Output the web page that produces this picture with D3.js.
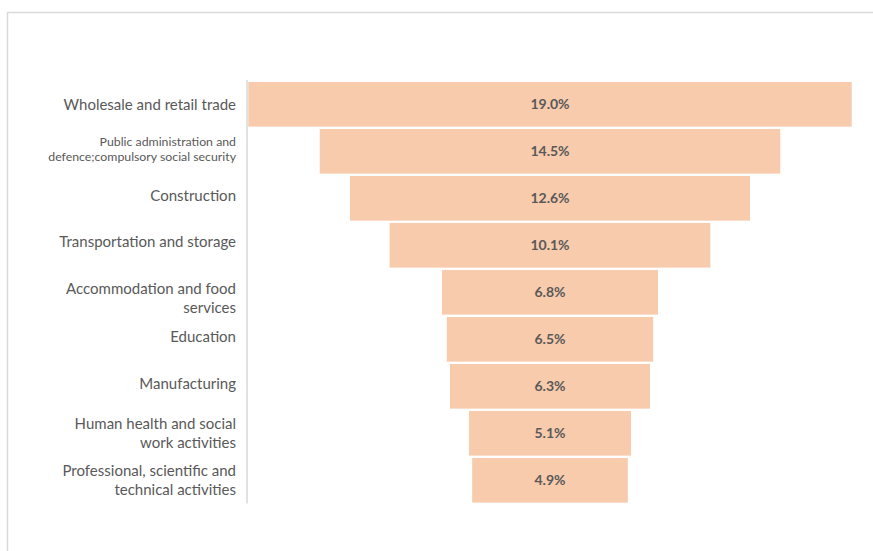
<!DOCTYPE html>
<html>
<head>
<meta charset="utf-8">
<script src="https://cdn.jsdelivr.net/npm/d3@7"></script>
<style>
  body { margin: 0; background: #fff; }
  text { font-family: Lato, "Open Sans", sans-serif; }
</style>
</head>
<body>
<svg id="funnel"></svg>
<script>
var width = 873;
var height = 551;

// categories, top to bottom (\n marks a line break in the axis label)
var categories = [
  'Wholesale and retail trade',
  'Public administration and\ndefence;compulsory social security',
  'Construction',
  'Transportation and storage',
  'Accommodation and food\nservices',
  'Education',
  'Manufacturing',
  'Human health and social\nwork activities',
  'Professional, scientific and\ntechnical activities'
];
var shares = [19.0, 14.5, 12.6, 10.1, 6.8, 6.5, 6.3, 5.1, 4.9];
var valueLabels = ['19.0%', '14.5%', '12.6%', '10.1%', '6.8%', '6.5%', '6.3%', '5.1%', '4.9%'];

var svg = d3.select('#funnel').attr('width', width).attr('height', height);

// chart frame
svg.append('rect')
  .attr('x', 7.5).attr('y', 12.5)
  .attr('width', width).attr('height', height)
  .attr('fill', 'none')
  .attr('stroke', '#d9dadd')
  .attr('stroke-width', 1.5);

var maxShare = d3.max(shares);

// bars are centred, so the scale runs from -max/2 to +max/2
var x = d3.scaleLinear()
  .domain([-maxShare / 2, maxShare / 2])
  .range([248.3, 851.7]);

var y = d3.scaleBand()
  .domain(categories)
  .range([80.8, 503.8])
  .paddingInner(0.05)
  .paddingOuter(0.025);

var rows = categories.map(function (c, i) {
  return { cat: c, value: shares[i], label: valueLabels[i] };
});

svg.append('g').selectAll('rect')
  .data(rows)
  .enter().append('rect')
  .attr('x', d => x(-d.value / 2))
  .attr('width', d => x(d.value / 2) - x(-d.value / 2))
  .attr('y', d => y(d.cat))
  .attr('height', y.bandwidth())
  .attr('fill', '#f7cbac');

svg.append('g').selectAll('text')
  .data(rows)
  .enter().append('text')
  .attr('x', x(0))
  .attr('y', d => y(d.cat) + y.bandwidth() / 2)
  .attr('dy', '0.35em')
  .attr('text-anchor', 'middle')
  .attr('font-size', 14)
  .attr('font-weight', 'bold')
  .attr('fill', '#595959')
  .text(d => d.label);

// category axis
var axis = svg.append('g');
axis.append('line')
  .attr('x1', 247).attr('x2', 247)
  .attr('y1', 80).attr('y2', 503.5)
  .attr('stroke', '#d9d9d9')
  .attr('stroke-width', 1.5);

// small vertical nudges to mimic Excel's label placement
var nudge = [0, -2, -3, -3.5, 6, -3, -3, 0, 0];

axis.selectAll('text')
  .data(categories)
  .enter().append('text')
  .attr('text-anchor', 'end')
  .attr('fill', '#595959')
  .attr('font-size', d => d.indexOf('defence') >= 0 ? 12.3 : 15)
  .each(function (d, idx) {
    var lines = d.split('\n');
    var small = d.indexOf('defence') >= 0;
    var lh = small ? 15.5 : 19;
    var cy = y(d) + y.bandwidth() / 2 + nudge[idx];
    var t = d3.select(this);
    lines.forEach(function (line, i) {
      t.append('tspan')
        .attr('x', 236)
        .attr('y', cy + (i - (lines.length - 1) / 2) * lh)
        .attr('dy', '0.35em')
        .text(line);
    });
  });
</script>
</body>
</html>
